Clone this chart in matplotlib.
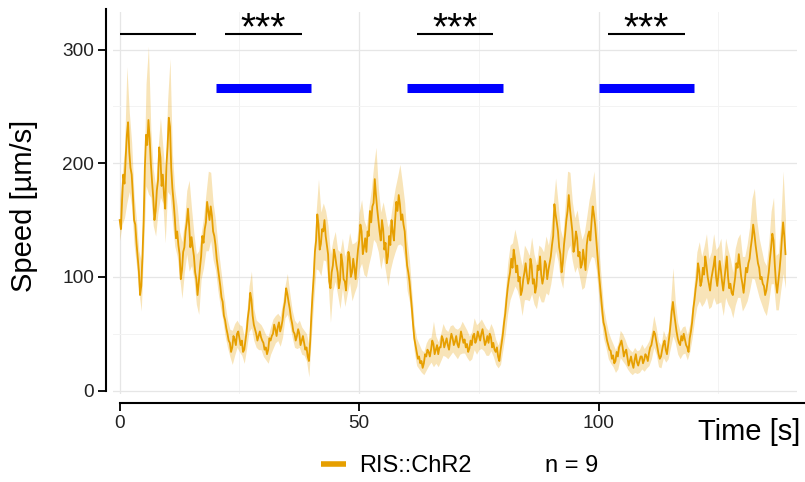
import numpy as np
import matplotlib
matplotlib.use("Agg")
import matplotlib.pyplot as plt
from matplotlib.lines import Line2D

plt.rcParams['font.family'] = ['Liberation Sans', 'DejaVu Sans']

# Mean crawling speed (µm/s), sampled every 0.25 s from t = 0 to 139 s
speed_mean = [
    150, 142, 168, 190, 182, 205, 225, 236, 210, 196, 190, 172, 150, 146, 130, 118, 105, 84, 92, 118,
    150, 196, 225, 216, 238, 222, 200, 184, 170, 150, 158, 176, 185, 214, 205, 180, 190, 172, 160, 198,
    215, 240, 232, 196, 178, 166, 152, 134, 140, 128, 120, 98, 106, 122, 126, 140, 148, 160, 145, 126,
    135, 126, 118, 104, 98, 84, 95, 108, 118, 136, 130, 142, 148, 166, 158, 150, 162, 154, 140, 136,
    128, 116, 108, 100, 92, 82, 78, 66, 62, 55, 50, 44, 42, 34, 38, 48, 45, 40, 50, 52,
    46, 40, 44, 34, 36, 44, 52, 64, 72, 86, 80, 66, 58, 54, 50, 44, 48, 52, 47, 44,
    42, 36, 38, 32, 36, 46, 44, 48, 50, 58, 54, 48, 56, 60, 52, 56, 62, 72, 78, 90,
    85, 78, 72, 64, 59, 52, 50, 44, 48, 54, 50, 40, 44, 48, 42, 36, 38, 30, 26, 42,
    65, 84, 100, 122, 132, 155, 146, 124, 129, 142, 140, 150, 136, 128, 120, 96, 90, 104, 110, 124,
    118, 110, 104, 90, 97, 120, 112, 98, 96, 88, 105, 122, 117, 100, 104, 116, 108, 98, 112, 124,
    132, 146, 140, 120, 126, 134, 122, 140, 136, 158, 148, 162, 165, 186, 172, 160, 150, 140, 132, 150,
    142, 124, 130, 112, 118, 136, 128, 150, 140, 132, 150, 166, 158, 172, 164, 150, 155, 146, 140, 124,
    110, 104, 96, 84, 72, 58, 46, 40, 34, 28, 30, 24, 26, 20, 24, 32, 30, 36, 34, 30,
    36, 44, 41, 32, 36, 40, 32, 38, 38, 48, 45, 38, 42, 46, 40, 36, 44, 50, 46, 40,
    43, 48, 41, 38, 44, 52, 47, 42, 45, 38, 41, 34, 37, 44, 40, 48, 50, 42, 45, 52,
    48, 44, 50, 54, 47, 40, 43, 48, 42, 50, 47, 38, 42, 36, 34, 38, 30, 26, 35, 42,
    50, 60, 68, 80, 90, 98, 104, 116, 108, 124, 117, 104, 110, 96, 100, 84, 88, 98, 104, 112,
    102, 94, 99, 116, 110, 94, 98, 86, 92, 110, 106, 118, 102, 94, 100, 114, 111, 98, 106, 112,
    118, 128, 136, 164, 155, 148, 140, 126, 120, 104, 112, 128, 138, 150, 158, 172, 160, 150, 140, 122,
    128, 140, 134, 118, 122, 108, 111, 124, 115, 106, 128, 136, 140, 132, 148, 162, 155, 146, 132, 118,
    105, 94, 82, 70, 60, 56, 50, 44, 40, 36, 35, 28, 31, 24, 26, 34, 30, 38, 41, 44,
    38, 30, 34, 36, 29, 22, 26, 30, 24, 20, 27, 32, 25, 22, 26, 30, 30, 24, 27, 32,
    30, 26, 33, 38, 40, 46, 52, 50, 44, 38, 32, 28, 30, 36, 41, 44, 36, 32, 40, 48,
    58, 70, 78, 68, 60, 52, 46, 42, 40, 48, 44, 50, 45, 40, 38, 34, 46, 52, 60, 72,
    80, 90, 98, 112, 105, 92, 96, 108, 102, 118, 110, 100, 94, 88, 98, 104, 110, 118, 100, 92,
    102, 114, 106, 96, 88, 98, 108, 118, 100, 90, 94, 86, 84, 92, 100, 112, 108, 120, 110, 100,
    94, 86, 96, 108, 104, 112, 116, 126, 134, 146, 138, 128, 120, 112, 108, 98, 100, 94, 92, 84,
    88, 96, 104, 116, 126, 138, 132, 112, 95, 86, 96, 106, 118, 134, 148, 136, 120,
]
mean_step = 0.25

# Standard error of the mean, sampled every 0.5 s
speed_sem = [
    18, 22, 30, 60, 35, 28, 22, 20, 18, 22,
    25, 45, 65, 30, 25, 22, 28, 35, 25, 30,
    40, 60, 30, 25, 22, 20, 25, 22, 28, 40,
    25, 20, 22, 28, 20, 22, 25, 35, 30, 25,
    22, 20, 18, 15, 14, 12, 12, 15, 14, 12,
    12, 13, 12, 15, 20, 25, 14, 12, 12, 11,
    12, 11, 12, 12, 13, 12, 12, 13, 15, 14,
    18, 14, 12, 12, 11, 12, 12, 11, 12, 14,
    18, 22, 25, 40, 28, 25, 22, 25, 30, 22,
    22, 20, 25, 22, 22, 20, 22, 25, 22, 20,
    25, 28, 24, 22, 25, 28, 32, 42, 28, 25,
    24, 25, 26, 22, 25, 28, 30, 35, 28, 25,
    22, 18, 14, 12, 12, 11, 10, 10, 12, 12,
    11, 20, 12, 11, 12, 14, 12, 12, 13, 12,
    12, 13, 12, 14, 12, 12, 11, 12, 14, 13,
    12, 13, 12, 12, 11, 12, 12, 11, 10, 12,
    14, 18, 22, 24, 22, 25, 22, 20, 22, 24,
    22, 20, 25, 22, 20, 22, 24, 22, 25, 22,
    24, 28, 32, 26, 22, 22, 26, 35, 32, 26,
    24, 25, 22, 22, 24, 25, 28, 30, 38, 26,
    22, 18, 14, 12, 12, 11, 10, 10, 11, 12,
    12, 11, 10, 10, 10, 11, 10, 10, 11, 10,
    10, 11, 12, 14, 12, 11, 10, 12, 11, 12,
    20, 30, 18, 14, 12, 12, 12, 11, 12, 14,
    18, 24, 26, 22, 25, 28, 22, 24, 28, 24,
    25, 28, 22, 26, 24, 22, 20, 25, 26, 28,
    24, 22, 25, 28, 35, 40, 30, 26, 24, 22,
    22, 26, 32, 38, 24, 25, 30, 45, 30,
]
sem_step = 0.5

# Light stimulation windows (s)
stim_windows = [(20, 40), (60, 80), (100, 120)]
stim_level = 266

# Comparison brackets (s) and their significance labels
bracket_spans = [(0, 16), (22, 38), (62, 78), (102, 118)]
bracket_labels = ["", "***", "***", "***"]
bracket_level = 314

series_label = "RIS::ChR2"
n_label = "n = 9"

orange = "#E69F00"

W, H = 805, 482
fig = plt.figure(figsize=(W / 100, H / 100), dpi=100)
ax = fig.add_axes([113 / W, 1 - 394 / H, 684 / W, 382 / H])

ax.set_xlim(-1.4, 141.4)
ax.set_ylim(-3, 333)

# grid
ax.set_xticks([0, 50, 100])
ax.set_xticks([25, 75, 125], minor=True)
ax.set_yticks([0, 100, 200, 300])
ax.set_yticks([50, 150, 250], minor=True)
ax.grid(which='major', color='#E6E6E6', lw=0.9)
ax.grid(which='minor', color='#F3F3F3', lw=0.7)
ax.set_axisbelow(True)

# mean trace with SEM ribbon
t_mean = np.arange(len(speed_mean)) * mean_step
t_sem = np.arange(len(speed_sem)) * sem_step
m = np.array(speed_mean, dtype=float)
s = np.array(speed_sem, dtype=float)
m_on_sem_grid = m[::2]
ax.fill_between(t_sem, m_on_sem_grid - s, m_on_sem_grid + s, color=orange,
                alpha=0.28, lw=0)
ax.plot(t_mean, m, color=orange, lw=1.3)

for a, b in stim_windows:
    ax.plot([a, b], [stim_level, stim_level], color='#0000FF', lw=6.5,
            solid_capstyle='butt')

for (a, b), lab in zip(bracket_spans, bracket_labels):
    ax.plot([a, b], [bracket_level, bracket_level], color='black', lw=1.5,
            solid_capstyle='butt', clip_on=False)
    if lab:
        ax.text((a + b) / 2, bracket_level - 5, lab, ha='center', va='baseline',
                fontsize=28, color='black', clip_on=False)

# axes styling
for side in ('top', 'right'):
    ax.spines[side].set_visible(False)
ax.spines['left'].set_position(('outward', 5))
ax.spines['bottom'].set_position(('outward', 6.5))
ax.spines['left'].set_bounds(0, 336)
ax.spines['bottom'].set_bounds(0, 143)
for side in ('left', 'bottom'):
    ax.spines[side].set_linewidth(1.5)
    ax.spines[side].set_color('black')
ax.tick_params(which='major', length=5.5, width=1.3, color='black',
               labelsize=13.7, labelcolor='#222222', pad=3)
ax.tick_params(which='minor', length=0)

fig.text(24 / W, 1 - 206 / H, "Speed [µm/s]", rotation=90, ha='center',
         va='center', fontsize=21)
fig.text(800 / W, 1 - 432 / H, "Time [s]", ha='right', va='center',
         fontsize=21)

handle = Line2D([], [], color=orange, lw=4, solid_capstyle='butt')
fig.legend([handle], [series_label], loc='center left',
           bbox_to_anchor=(321 / W, 1 - 466 / H), frameon=False,
           fontsize=17, handlelength=1.05, handletextpad=0.55,
           borderpad=0, borderaxespad=0)
fig.text(545 / W, 1 - 466 / H, n_label, ha='left', va='center', fontsize=17)

fig.savefig("out.png", dpi=100)
